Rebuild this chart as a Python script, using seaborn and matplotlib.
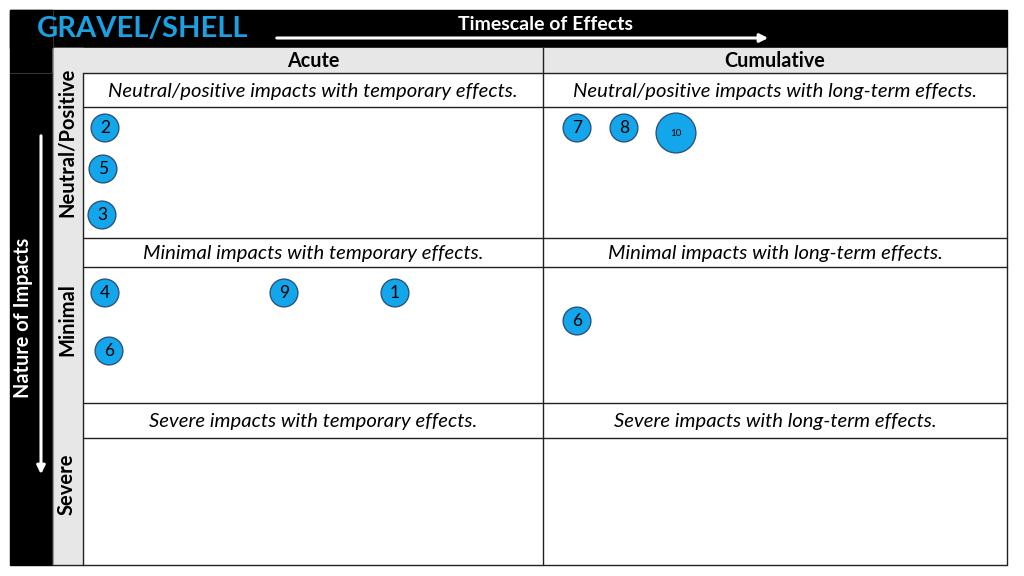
import matplotlib.pyplot as plt
import matplotlib.patches as mpatches
import pandas as pd
import seaborn as sns

# ==========================================
# DATA
# ==========================================

title = "GRAVEL/SHELL"
column_names = ["Acute", "Cumulative"]
row_names = ["Neutral/Positive", "Minimal", "Severe"]

cell_texts = [
    ["Neutral/positive impacts with temporary effects.",
     "Neutral/positive impacts with long-term effects."],
    ["Minimal impacts with temporary effects.",
     "Minimal impacts with long-term effects."],
    ["Severe impacts with temporary effects.",
     "Severe impacts with long-term effects."],
]

circle_labels = ["2", "5", "3", "4", "9", "1", "6", "7", "8", "10", "6"]
circle_x = [105, 103, 102, 105, 284, 395, 109, 577, 624, 676, 577]
circle_y = [128, 169, 215, 293, 293, 293, 351, 128, 128, 133, 321]
circle_size = ["small"] * 9 + ["large", "small"]

# ==========================================
# LAYOUT
# ==========================================

col_edges = [83, 543, 1007]
row_edges = [73, 238, 403, 565]
sub_bottoms = [107, 267, 438]
row_label_y = [142, 320, 484]

sns.set_theme(style="white")
plt.rcParams["font.family"] = ["Lato", "DejaVu Sans"]

fig = plt.figure(figsize=(10.24, 5.76), dpi=100)
ax = fig.add_axes([0, 0, 1, 1])

# black frame
ax.add_patch(mpatches.Rectangle((10, 10), 997, 38, color="black", zorder=1))
ax.add_patch(mpatches.Rectangle((10, 10), 43, 555, color="black", zorder=1))
ax.plot([10, 53], [73, 73], color="#333333", lw=0.8, zorder=2)
ax.plot([53, 53], [10, 48], color="#333333", lw=0.8, zorder=2)

# grey headers
ax.add_patch(mpatches.Rectangle((53, 48), 954, 25, color="#e7e7e7", zorder=1))
ax.add_patch(mpatches.Rectangle((53, 48), 30, 517, color="#e7e7e7", zorder=1))

# grid lines
line_kw = dict(color="#222222", lw=1.0, zorder=2)
ax.plot([83, 83], [73, 565], **line_kw)
ax.plot([543, 543], [48, 565], **line_kw)
ax.plot([1007, 1007], [48, 565], **line_kw)
ax.plot([53, 53], [48, 565], color="#999999", lw=0.8, zorder=2)
for y in row_edges:
    ax.plot([83, 1007], [y, y], **line_kw)
ax.plot([53, 83], [565, 565], **line_kw)
for y in sub_bottoms:
    ax.plot([83, 1007], [y, y], **line_kw)

# title and timescale arrow
ax.text(37, 29, title, color="#1ba1e2", fontsize=21, fontweight="bold",
        ha="left", va="center", zorder=3)
ax.text(545, 24, "Timescale of Effects", color="white", fontsize=14,
        fontweight="bold", ha="center", va="center", zorder=3)
ax.annotate("", xy=(771, 38), xytext=(274, 38),
            arrowprops=dict(arrowstyle="-|>", color="white", lw=2.2,
                            mutation_scale=12), zorder=3)

# nature of impacts arrow
ax.text(23, 318, "Nature of Impacts", color="white", fontsize=14.3,
        fontweight="bold", rotation=90, ha="center", va="center", zorder=3)
ax.annotate("", xy=(41, 477), xytext=(41, 133),
            arrowprops=dict(arrowstyle="-|>", color="white", lw=2.2,
                            mutation_scale=12), zorder=3)

# column headers
for i, name in enumerate(column_names):
    ax.text((col_edges[i] + col_edges[i + 1]) / 2, 61, name,
            fontsize=14.2, fontweight="bold", ha="center", va="center",
            color="black", zorder=3)

# row headers and cell texts
for r, name in enumerate(row_names):
    ax.text(67, row_label_y[r], name,
            fontsize=14.5, fontweight="bold", rotation=90,
            ha="center", va="center", color="black", zorder=3)
    for c in range(2):
        ax.text((col_edges[c] + col_edges[c + 1]) / 2,
                (row_edges[r] + sub_bottoms[r]) / 2 + 1, cell_texts[r][c],
                fontsize=14.6, style="italic", ha="center", va="center",
                color="black", zorder=3)

# circles
df = pd.DataFrame({
    "x": circle_x,
    "y": circle_y,
    "label": circle_labels,
    "size": circle_size,
})

sns.scatterplot(
    data=df, x="x", y="y", size="size",
    sizes={"small": 400, "large": 820},
    color="#14a6ea", edgecolor="#2b5580", linewidth=1.0,
    legend=False, ax=ax, zorder=4
)

ax.set_xlim(0, 1024)
ax.set_ylim(576, 0)
ax.axis("off")

for _, row in df.iterrows():
    fs = 7 if row["size"] == "large" else 12.5
    ax.text(row["x"], row["y"], row["label"], fontsize=fs,
            ha="center", va="center", color="black", zorder=5)

fig.savefig("out.png", dpi=100)
plt.close(fig)
